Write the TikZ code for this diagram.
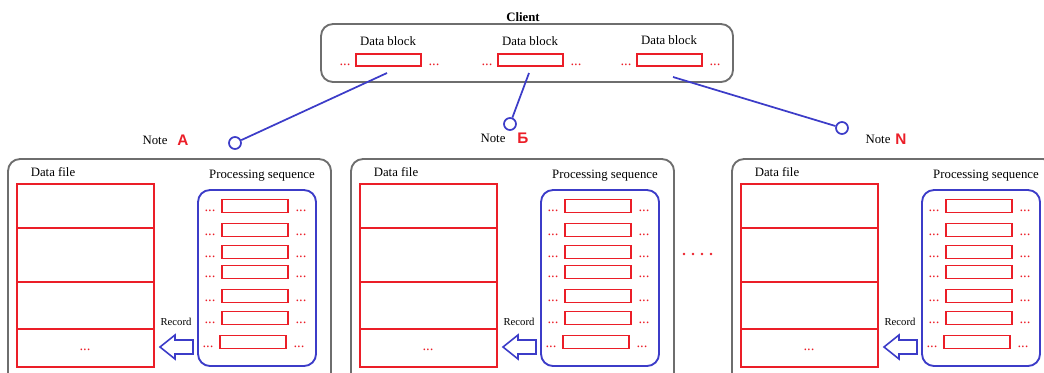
\documentclass[tikz,border=0pt]{standalone}
\usepackage{fontspec}
\setmainfont{Liberation Serif}
\newfontfamily\lsans{Liberation Sans}
\definecolor{gry}{RGB}{110,110,110}
\definecolor{rd}{RGB}{235,30,40}
\definecolor{bl}{RGB}{60,60,200}
\begin{document}
\begin{tikzpicture}[x=0.75pt,y=-0.75pt,
  gbox/.style={draw=gry, line width=1.4pt, rounded corners=9pt},
  bbox/.style={draw=bl, line width=1.4pt, rounded corners=9pt},
  rbox/.style={draw=rd, line width=1.3pt},
  bline/.style={draw=bl, line width=1.3pt},
  txt/.style={font=\fontsize{9.6}{11}\selectfont, inner sep=0pt},
  stxt/.style={font=\fontsize{8}{10}\selectfont, inner sep=0pt},
  rdots/.style={text=rd, font=\fontsize{11}{12}\selectfont, inner sep=0pt},
  letter/.style={text=rd, font=\lsans\bfseries\fontsize{11.5}{13}\selectfont, inner sep=0pt},
  pin/.style={circle, draw=bl, line width=1.3pt, minimum size=9pt, inner sep=0pt, fill=white}]
\useasboundingbox (0,0) rectangle (1044,372);
\clip (0,0) rectangle (1044,372);
% Client
\node[txt, font=\bfseries\fontsize{9.6}{11}\selectfont] (client) at (523,17) {Client};
\draw[gbox] (321,24) rectangle (733,82);
\foreach \x/\i/\ly in {388/1/41, 530/2/41, 669/3/40}{
  \node[txt] (dbl\i) at (\x,\ly) {Data block};
  \draw[rbox] (\x-32,54) rectangle (\x+33,66);
  \node[rdots] at (\x-43,65) {...};
  \node[rdots] at (\x+46,65) {...};
}
\coordinate (s1) at (387,73);
\coordinate (s2) at (529,73);
\coordinate (s3) at (673,77);
\node[pin] (c1) at (235,143) {};
\node[pin] (c2) at (510,124) {};
\node[pin] (c3) at (842,128) {};
\draw[bline] (s1) -- (c1);
\draw[bline] (s2) -- (c2);
\draw[bline] (s3) -- (c3);
\node[txt] (n1) at (155,140) {Note};
\node[letter] (l1) at (183,140) {A};
\node[txt] (n2) at (493,138) {Note};
\node[letter] (l2) at (523,138) {Б};
\node[txt] (n3) at (878,139) {Note};
\node[letter] (l3) at (901,139) {N};
% panels
\foreach \o/\p in {0/1,343/2,724/3}{
\begin{scope}[shift={(\o,0)}]
  \draw[gbox] (8,159) rectangle (331,385);
  \node[txt] (df\p) at (53,172) {Data file};
  \draw[rbox] (17,184) rectangle (154,367);
  \draw[rbox] (17,228) -- (154,228);
  \draw[rbox] (17,282) -- (154,282);
  \draw[rbox] (17,329) -- (154,329);
  \node[rdots] at (85,350) {...};
  \node[txt] (ps\p) at (262,176) {Processing sequence};
  \draw[bbox] (198,190) rectangle (316,366);
  \foreach \y/\dx in {206/0,230/0,252/0,272/0,296/0,318/0,342/-2}{
    \draw[rbox] (222+\dx,\y-6.5) rectangle (288+\dx,\y+6.5);
    \node[rdots] at (210+\dx,\y+5) {...};
    \node[rdots] at (301+\dx,\y+5) {...};
  }
  \node[stxt] (rec\p) at (176,322) {Record};
  \draw[bline, line width=1.2pt, line join=miter] (160,347) -- (175,335) -- (175,340) -- (193,340) -- (193,354) -- (175,354) -- (175,359) -- cycle;
\end{scope}
}
\foreach \x in {684,693,702,711}{
  \fill[rd] (\x,254) circle (1.3);
}
\end{tikzpicture}
\end{document}
